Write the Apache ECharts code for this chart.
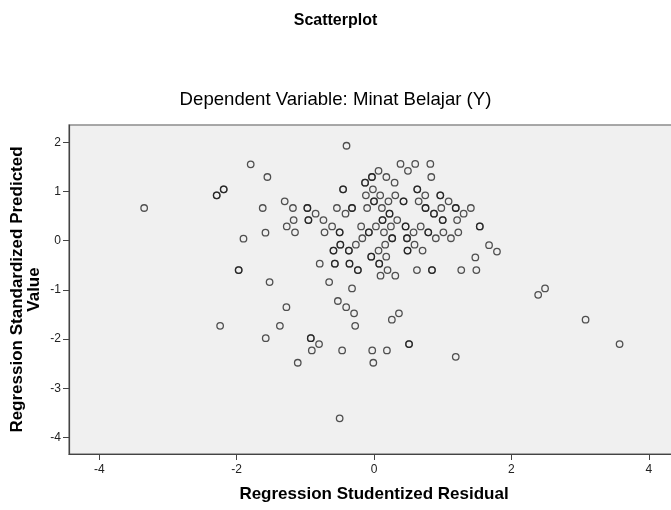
<!DOCTYPE html>
<html>
<head>
<meta charset="utf-8">
<style>html,body{margin:0;padding:0;background:#fff}#c{width:671px;height:510px}</style>
<script src="https://cdn.jsdelivr.net/npm/echarts@6/dist/echarts.min.js"></script>
</head>
<body>
<div id="c"></div>
<script>
const titleText = "Scatterplot";
const subtitleText = "Dependent Variable: Minat Belajar (Y)";
const xAxisTitle = "Regression Studentized Residual";
const yAxisTitle = "Regression Standardized Predicted\nValue";
const xTicks = [-4, -2, 0, 2, 4];
const yTicks = [-4, -3, -2, -1, 0, 1, 2];

// Studentized residuals (x) and standardized predicted values (y); repeated entries are overlapping cases
const xValues = [
  -1.795, -1.552, -2.188, -2.188, -2.29, -2.29, -3.346, -1.62, -1.58, -1.90, -1.97, -1.97, -1.52, -2.24, -1.37, -1.576,
  -0.40, 0.386, 0.494, 0.60, 0.82, 0.834, 0.066, -0.03, -0.03, 0.18, -0.13, -0.13, 0.30,
  -0.45, -0.45, -0.016, 0.63, 0.63, -0.118, 0.09, 0.31, 0.746, 0.965, 0.965,
  -1.30, 0.0, 0.0, 0.21, 0.43, 0.43, 0.65, 1.086,
  -1.18, -0.97, -0.97, -0.54, -0.32, -0.32, -0.10, 0.115, 0.75, 0.75, 0.98, 1.19, 1.19, 1.41,
  -0.85, -0.415, 0.226, 0.226, 0.873, 0.873, 1.305,
  -1.17, -0.955, -0.955, -0.736, 0.124, 0.124, 0.338, 1.0, 1.0, 1.21,
  -1.27, -0.61, -0.187, 0.028, 0.246, 0.46, 0.46, 0.68, 1.54, 1.54,
  -1.15, -0.72, -0.50, -0.50, -0.075, -0.075, 0.145, 0.576, 0.79, 0.79, 1.01, 1.227,
  -0.17, 0.265, 0.265, 0.48, 0.48, 0.90, 1.12,
  -0.264, -0.49, -0.49, 0.163, 0.59, 1.675,
  -0.59, -0.59, -0.366, -0.366, 0.066, 0.488, 0.488, 0.707, 1.79,
  -0.04, -0.04, 0.178, 1.475,
  -0.79, -0.57, -0.57, -0.357, -0.357, 0.076, 0.076,
  -0.235, -0.235, 0.197, 0.625, 0.844, 0.844, 1.27, 1.49,
  0.095, 0.31, -0.653, -0.32, 2.49, 2.39,
  -1.275, -0.526, -0.405, -0.29, -0.274, 0.363, 0.26, 3.08,
  -0.92, -0.92, -0.80, -0.905, -0.464, -0.026, 0.188, 0.51, 0.51, 3.575,
  -1.11, -0.01, 1.19, -0.50
];
const yValues = [
  1.553, 1.295, 1.045, 1.045, 0.922, 0.922, 0.665, 0.665, 0.163, 0.041, -0.596, -0.596, -0.84, -1.73, -1.73, -1.98,
  1.93, 1.56, 1.42, 1.56, 1.56, 1.295, 1.42, 1.295, 1.295, 1.295, 1.18, 1.18, 1.18,
  1.045, 1.045, 1.045, 1.045, 1.045, 0.922, 0.922, 0.922, 0.922, 0.922, 0.922,
  0.80, 0.80, 0.80, 0.80, 0.80, 0.80, 0.80, 0.80,
  0.665, 0.665, 0.665, 0.665, 0.665, 0.665, 0.665, 0.665, 0.665, 0.665, 0.665, 0.665, 0.665, 0.665,
  0.55, 0.55, 0.55, 0.55, 0.55, 0.55, 0.55,
  0.42, 0.42, 0.42, 0.42, 0.42, 0.42, 0.42, 0.42, 0.42, 0.42,
  0.29, 0.29, 0.29, 0.29, 0.29, 0.29, 0.29, 0.29, 0.29, 0.29,
  0.17, 0.17, 0.17, 0.17, 0.17, 0.17, 0.17, 0.17, 0.17, 0.17, 0.17, 0.17,
  0.05, 0.05, 0.05, 0.05, 0.05, 0.05, 0.05,
  -0.08, -0.08, -0.08, -0.08, -0.08, -0.09,
  -0.20, -0.20, -0.20, -0.20, -0.20, -0.20, -0.20, -0.20, -0.22,
  -0.325, -0.325, -0.325, -0.34,
  -0.467, -0.467, -0.467, -0.467, -0.467, -0.467, -0.467,
  -0.596, -0.596, -0.596, -0.596, -0.596, -0.596, -0.596, -0.596,
  -0.71, -0.71, -0.84, -0.97, -0.97, -1.10,
  -1.35, -1.225, -1.35, -1.476, -1.73, -1.476, -1.605, -1.605,
  -1.98, -1.98, -2.10, -2.23, -2.23, -2.23, -2.23, -2.10, -2.10, -2.10,
  -2.48, -2.48, -2.36, -3.61
];

const points = xValues.map((x, i) => [x, yValues[i]]);
const font = "'Liberation Sans', Arial, sans-serif";

const chart = echarts.init(document.getElementById('c'), null, {renderer: 'canvas'});
chart.setOption({
  animation: false,
  backgroundColor: '#ffffff',
  title: [
    {text: titleText, left: 'center', top: 8,
     textStyle: {fontFamily: font, fontSize: 16, fontWeight: 'bold', color: '#000'}},
    {text: subtitleText, left: 'center', top: 85,
     textStyle: {fontFamily: font, fontSize: 18.6, fontWeight: 'normal', color: '#000'}}
  ],
  grid: {left: 69, top: 125, bottom: 56, right: -8, show: true, outerBoundsMode: 'none',
         containLabel: false,
         backgroundColor: '#f0f0f0', borderColor: '#8c8c8c', borderWidth: 1.5},
  xAxis: {
    type: 'value', min: -4.44, max: 4.44,
    name: xAxisTitle, nameLocation: 'middle', nameGap: 32, nameMoveOverlap: false,
    nameTextStyle: {fontFamily: font, fontSize: 17, fontWeight: 'bold', color: '#000'},
    axisLine: {show: true, onZero: false, lineStyle: {color: '#444', width: 1.2}},
    axisTick: {show: true, length: 6, customValues: xTicks, lineStyle: {color: '#444'}},
    axisLabel: {customValues: xTicks, fontFamily: font, fontSize: 12, color: '#222', margin: 10},
    splitLine: {show: false}
  },
  yAxis: {
    type: 'value', min: -4.335, max: 2.352,
    name: yAxisTitle, nameLocation: 'middle', nameGap: 26, nameRotate: 90, nameMoveOverlap: false,
    nameTextStyle: {fontFamily: font, fontSize: 17, fontWeight: 'bold', color: '#000', lineHeight: 17},
    axisLine: {show: true, onZero: false, lineStyle: {color: '#444', width: 1.2}},
    axisTick: {show: true, length: 6, customValues: yTicks, lineStyle: {color: '#444'}},
    axisLabel: {customValues: yTicks, fontFamily: font, fontSize: 12, color: '#222', margin: 8},
    splitLine: {show: false}
  },
  series: [{
    type: 'scatter',
    data: points,
    symbol: 'circle',
    symbolSize: 6.5,
    itemStyle: {color: 'rgba(0,0,0,0)', borderColor: 'rgba(25,25,25,0.75)', borderWidth: 1.3, opacity: 1}
  }]
});
</script>
</body>
</html>
